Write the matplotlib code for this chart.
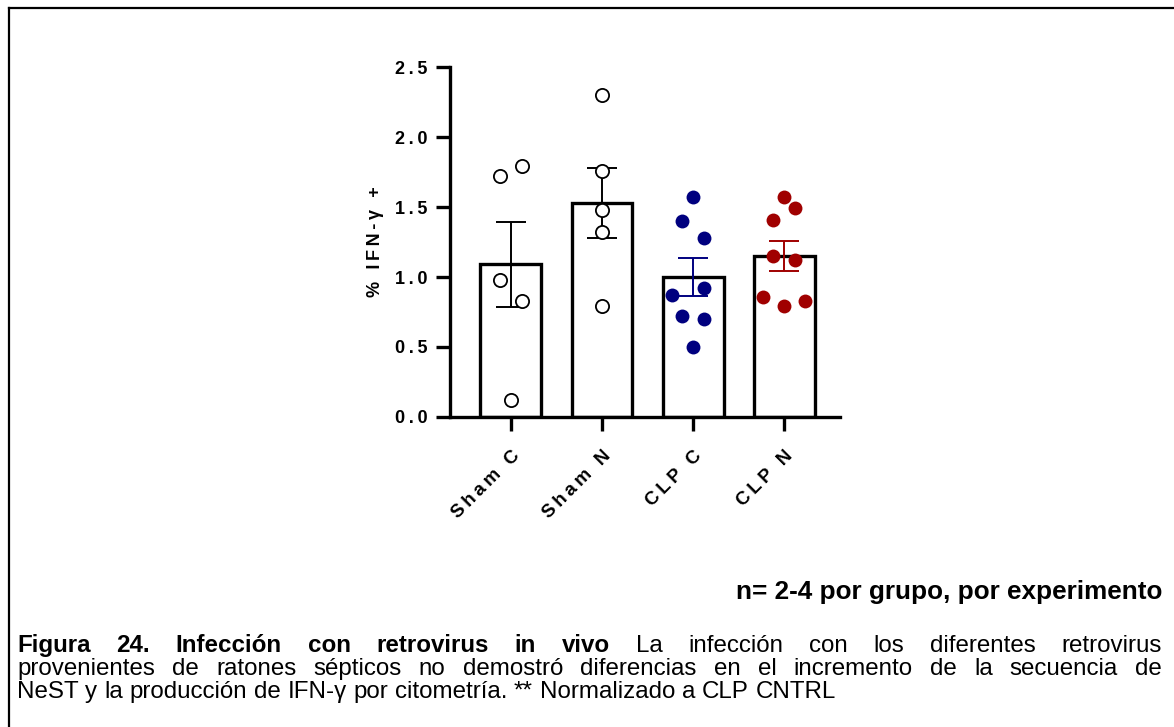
import matplotlib.pyplot as plt
import numpy as np
from matplotlib.lines import Line2D

plt.rcParams['font.family'] = ['Liberation Sans', 'DejaVu Sans']

# datos
grupos = ['Sham C', 'Sham N', 'CLP C', 'CLP N']
medias = [1.09, 1.53, 1.00, 1.15]
sem = [0.305, 0.25, 0.135, 0.11]
puntos = [
    [1.72, 1.79, 0.98, 0.83, 0.12],
    [2.30, 1.76, 1.48, 1.32, 0.79],
    [1.57, 1.40, 1.28, 0.875, 0.92, 0.725, 0.70, 0.50],
    [1.57, 1.49, 1.41, 1.15, 1.12, 0.86, 0.79, 0.83],
]
# desplazamiento horizontal de los puntos (disposicion tipo enjambre)
desplaz = [
    [-0.12, 0.12, -0.12, 0.12, 0.0],
    [0.0, 0.0, 0.0, 0.0, 0.0],
    [0.0, -0.12, 0.12, -0.23, 0.12, -0.12, 0.12, 0.0],
    [0.0, 0.12, -0.12, -0.12, 0.12, -0.23, 0.0, 0.23],
]
relleno = ['white', 'white', '#00007f', '#a00000']
borde = ['black', 'black', '#00007f', '#a00000']
yticks = [0.0, 0.5, 1.0, 1.5, 2.0, 2.5]

W, H = 1174, 727
fig = plt.figure(figsize=(W / 100, H / 100), dpi=100)
ax = fig.add_axes([450 / W, 1 - 417 / H, 390 / W, 350 / H])

x = np.arange(len(grupos))
ax.bar(x, medias, width=0.67, color='white', edgecolor='black', linewidth=2.4, zorder=1)
for i in range(len(grupos)):
    ax.errorbar(x[i], medias[i], yerr=sem[i], color=borde[i], capsize=10.5,
                elinewidth=1.4, capthick=1.4, zorder=3)
    xs = x[i] + np.array(desplaz[i])
    if relleno[i] == 'white':
        ax.plot(xs, puntos[i], 'o', ms=9.5, mfc='white', mec='black', mew=1.3, zorder=4, clip_on=False)
    else:
        ax.plot(xs, puntos[i], 'o', ms=10, mfc=relleno[i], mec=relleno[i], mew=0, zorder=4, clip_on=False)

ax.set_xlim(-0.67, 3.615)
ax.set_ylim(0, 2.5)
ax.spines['top'].set_visible(False)
ax.spines['right'].set_visible(False)
ax.spines['left'].set_linewidth(2.4)
ax.spines['bottom'].set_linewidth(2.4)
ax.tick_params(width=2.4, length=10)
ax.tick_params(axis='y', pad=6)
ax.tick_params(axis='x', pad=12)

def espaciar(s):
    return '\u2009'.join(list(s))

ax.set_yticks(yticks)
ax.set_yticklabels([espaciar('%.1f' % v) for v in yticks], fontsize=13, fontweight='bold')
ax.set_xticks(x)
ax.set_xticklabels([espaciar(g) for g in grupos], rotation=45, ha='right', va='top',
                   rotation_mode='anchor', fontsize=13.5, fontweight='bold')
ax.set_ylabel(espaciar('% IFN-γ +'), fontsize=13, fontweight='bold', labelpad=8)

# marco de la figura
fig.add_artist(Line2D([9 / W, 1], [1 - 8 / H, 1 - 8 / H], color='black', lw=1.6))
fig.add_artist(Line2D([9 / W, 9 / W], [0, 1 - 8 / H], color='black', lw=1.6))

fig.text(1162 / W, 1 - 599 / H, 'n= 2-4 por grupo, por experimento', ha='right', va='baseline',
         fontsize=18.8, fontweight='bold')

# leyenda justificada
renderer = fig.canvas.get_renderer()
izq, der = 17, 1162
tam = 17.4

def linea(palabras, y, justificar=True):
    textos = []
    for p, peso in palabras:
        t = fig.text(0, 1 - y / H, p, fontsize=tam, fontweight=peso, va='baseline', ha='left')
        textos.append(t)
    anchos = [t.get_window_extent(renderer).width for t in textos]
    if justificar:
        hueco = (der - izq - sum(anchos)) / (len(textos) - 1)
    else:
        hueco = renderer.points_to_pixels(tam) * 0.278
    xp = izq
    for t, a in zip(textos, anchos):
        t.set_x(xp / W)
        xp += a + hueco

l1 = [(w, 'bold') for w in 'Figura 24. Infección con retrovirus in vivo'.split()] + \
     [(w, 'normal') for w in 'La infección con los diferentes retrovirus'.split()]
l2 = [(w, 'normal') for w in 'provenientes de ratones sépticos no demostró diferencias en el incremento de la secuencia de'.split()]
l3 = [(w, 'normal') for w in 'NeST y la producción de IFN-γ por citometría. ** Normalizado a CLP CNTRL'.split()]
linea(l1, 652)
linea(l2, 675)
linea(l3, 698, justificar=False)

fig.savefig('out.png', dpi=100)
